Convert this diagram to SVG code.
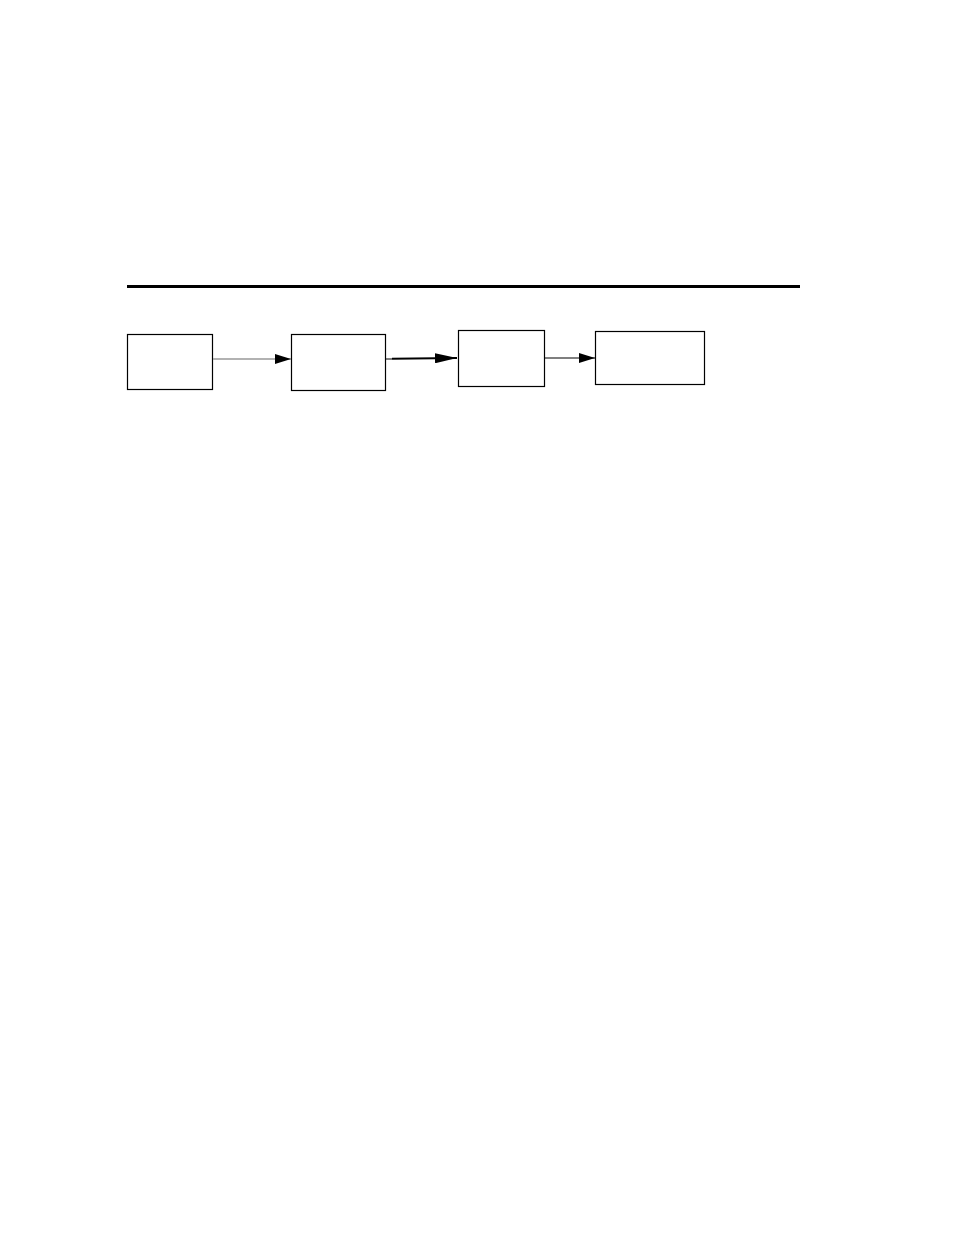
<svg xmlns="http://www.w3.org/2000/svg" width="954" height="1235" viewBox="0 0 954 1235">
<style>
.node rect{fill:#fff;stroke:#000;stroke-width:1.2}
</style>
<defs>
<marker id="ah" markerWidth="16" markerHeight="10" refX="16" refY="5" orient="auto" markerUnits="userSpaceOnUse">
<path d="M0,0 L16,5 L0,10 Z" fill="#000"/>
</marker>
<marker id="ah2" markerWidth="22" markerHeight="10" refX="22" refY="5" orient="auto" markerUnits="userSpaceOnUse">
<path d="M0,0 L22,5 L0,10 Z" fill="#000"/>
</marker>
</defs>
<rect width="954" height="1235" fill="#fff"/>
<line x1="127" y1="286.5" x2="800" y2="286.5" stroke="#000" stroke-width="3"/>
<g id="n1" class="node"><rect x="127.5" y="334.5" width="85" height="55"/></g>
<g id="n2" class="node"><rect x="291.5" y="334.5" width="94" height="56"/></g>
<g id="n3" class="node"><rect x="458.5" y="330.5" width="86" height="56"/></g>
<g id="n4" class="node"><rect x="595.5" y="331.5" width="109" height="53"/></g>
<g id="connectors">
<line x1="213" y1="359" x2="291" y2="359" stroke="#999" stroke-width="1.5" marker-end="url(#ah)"/>
<line x1="386" y1="359" x2="392" y2="359" stroke="#000" stroke-width="1"/>
<line x1="392" y1="358.8" x2="457" y2="358" stroke="#000" stroke-width="2" marker-end="url(#ah2)"/>
<line x1="545" y1="358" x2="595" y2="358" stroke="#000" stroke-width="1.2" marker-end="url(#ah)"/>
</g>
</svg>
